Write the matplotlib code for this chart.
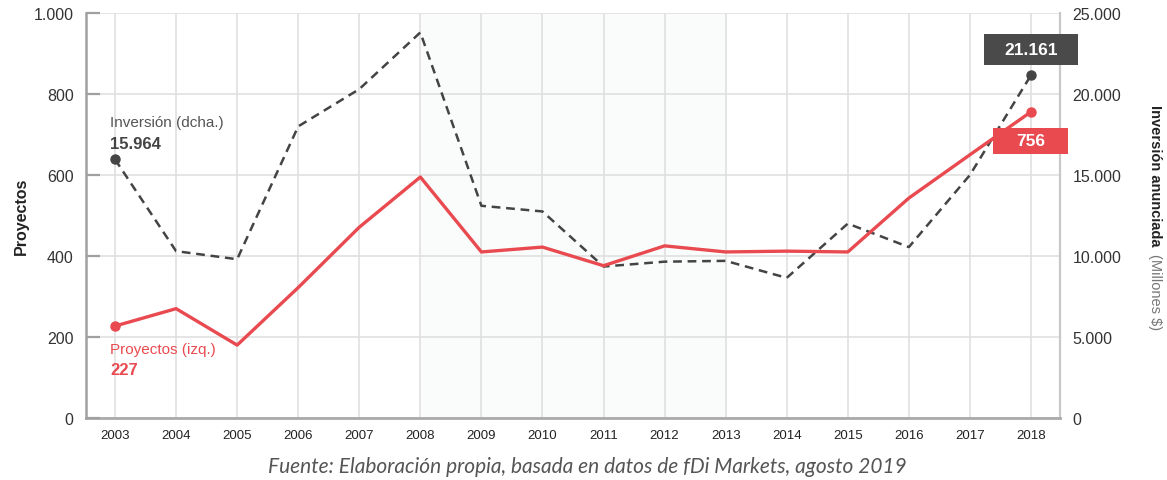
import matplotlib
matplotlib.use("Agg")
import matplotlib.pyplot as plt
import matplotlib.patches as mpatches
import matplotlib.transforms as mtransforms

plt.rcParams['font.family'] = ['Liberation Sans', 'DejaVu Sans']

years = list(range(2003, 2019))
proyectos = [227, 270, 180, 322, 471, 595, 410, 422, 376, 425, 410, 412, 410, 543, 650, 756]
inversion = [15964, 10300, 9800, 18000, 20300, 23800, 13100, 12750, 9350, 9650, 9700, 8650, 12000, 10550, 15000, 21161]
left_ticks = [0, 200, 400, 600, 800, 1000]
right_ticks = [0, 5000, 10000, 15000, 20000, 25000]
crisis = (2008, 2013)

RED = '#E84A50'
DARK = '#444444'

def miles(v):
    return f"{v:,}".replace(",", ".")

fig = plt.figure(figsize=(11.67, 4.81), dpi=100)
ax = fig.add_axes([86/1167, 1-419/481, 974/1167, 405/481])
axl = ax.twinx()
ax.yaxis.tick_right()
ax.yaxis.set_label_position('right')
axl.yaxis.tick_left()
axl.yaxis.set_label_position('left')

ax.set_xlim(years[0]-0.475, years[-1]+0.475)
ax.set_ylim(0, 25000)
axl.set_ylim(0, 1000)

# background band and grid on the lower axes
ax.axvspan(*crisis, color='#FAFCFB', zorder=0, lw=0)
ax.set_xticks(years)
ax.set_yticks(right_ticks)
ax.set_yticklabels([miles(v) for v in right_ticks])
ax.grid(True, color='#E0E0E0', lw=1.2, zorder=0.5)
ax.set_axisbelow(True)

axl.set_yticks(left_ticks)
axl.set_yticklabels([miles(v) for v in left_ticks])

# lines
ax.plot(years, inversion, color=DARK, lw=1.8, dashes=(3.5, 2.3), zorder=3)
ax.plot([years[0], years[-1]], [inversion[0], inversion[-1]], 'o', color=DARK, ms=6.5, zorder=4)
axl.plot(years, proyectos, color=RED, lw=2.4, zorder=3)
axl.plot([years[0], years[-1]], [proyectos[0], proyectos[-1]], 'o', color=RED, ms=6.5, zorder=4)

# spines and ticks
for a in (ax, axl):
    for s in ('top', 'left', 'right', 'bottom'):
        a.spines[s].set_visible(False)
ax.spines['bottom'].set_visible(True)
ax.spines['bottom'].set_color('#AAAAAA')
ax.spines['bottom'].set_linewidth(2)
ax.spines['right'].set_visible(True)
ax.spines['right'].set_color('#C8C8C8')
ax.spines['right'].set_linewidth(1.6)
axl.spines['left'].set_visible(True)
axl.spines['left'].set_color('#A0A0A0')
axl.spines['left'].set_linewidth(1.8)

ax.tick_params(axis='x', length=0, pad=8, labelsize=9.5, labelcolor='#222222')
ax.tick_params(axis='y', length=0, pad=9, labelsize=11.5, labelcolor='#333333')
axl.tick_params(axis='y', direction='in', length=10, width=1.6, color='#A0A0A0',
                pad=9, labelsize=11.5, labelcolor='#333333')

axl.set_ylabel('Proyectos', fontsize=11.5, fontweight='bold', color='#222222', labelpad=3)

# right label: bold part plus light part
t1 = fig.text(1155/1167, 1-105/481, 'Inversión anunciada', rotation=270, ha='center', va='top',
              fontsize=10.5, fontweight='bold', color='#222222')
fig.canvas.draw()
bb = t1.get_window_extent()
fig.text(1155/1167, (bb.y0 - 8)/481, '(Millones $)', rotation=270, ha='center', va='top',
         fontsize=10.5, color='#777777')

# series annotations at start
ax.annotate('Inversión (dcha.)', xy=(years[0], inversion[0]), xytext=(-3.6, 27), textcoords='offset points',
            fontsize=11, color='#555555', ha='left', va='center')
ax.annotate(miles(inversion[0]), xy=(years[0], inversion[0]), xytext=(-3.6, 11.5), textcoords='offset points',
            fontsize=12, fontweight='bold', color=DARK, ha='left', va='center')
axl.annotate('Proyectos (izq.)', xy=(years[0], proyectos[0]), xytext=(-3.6, -16.5), textcoords='offset points',
             fontsize=11, color=RED, ha='left', va='center')
axl.annotate(str(proyectos[0]), xy=(years[0], proyectos[0]), xytext=(-3.6, -31), textcoords='offset points',
             fontsize=12, fontweight='bold', color=RED, ha='left', va='center')

# end value boxes (sizes in pixels around the last point)
def end_box(a, x, y, dy, w, h, color, label):
    off = mtransforms.ScaledTranslation(x, y, a.transData)
    rect = mpatches.Rectangle((-w/2, dy - h/2), w, h, transform=off, facecolor=color,
                              edgecolor='none', clip_on=False, zorder=6)
    a.add_patch(rect)
    a.annotate(label, xy=(x, y), xytext=(0, dy*0.72), textcoords='offset points',
               ha='center', va='center', fontsize=12.5, fontweight='bold', color='white',
               zorder=7, annotation_clip=False)

end_box(ax, years[-1], inversion[-1], 26, 94, 31, '#4A4A4A', miles(inversion[-1]))
end_box(axl, years[-1], proyectos[-1], -29, 75, 26, RED, str(proyectos[-1]))

fig.text(587/1167, 1-467/481, 'Fuente: Elaboración propia, basada en datos de fDi Markets, agosto 2019',
         family=['Lato', 'DejaVu Sans'], style='italic', fontsize=15, color='#555555',
         ha='center', va='center')

fig.savefig('out.png', dpi=100)
